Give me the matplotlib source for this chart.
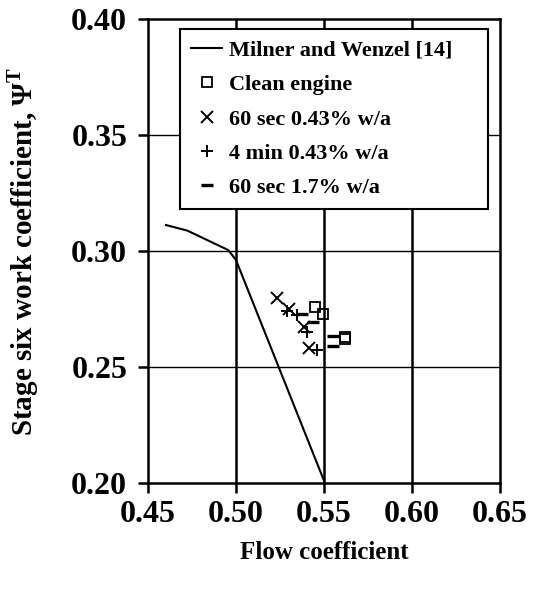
import matplotlib
matplotlib.use("Agg")
import matplotlib.pyplot as plt

plt.rcParams['font.family'] = ['Liberation Serif', 'DejaVu Serif']
plt.rcParams['font.weight'] = 'bold'
plt.rcParams['mathtext.fontset'] = 'custom'
plt.rcParams['mathtext.rm'] = 'Liberation Serif:bold'
plt.rcParams['mathtext.bf'] = 'Liberation Serif:bold'

milner_x = [0.4602, 0.4723, 0.4956, 0.5000, 0.5500]
milner_y = [0.3112, 0.3088, 0.3004, 0.2961, 0.2010]

clean_x = [0.5449, 0.5496, 0.5619, 0.5619]
clean_y = [0.2760, 0.2730, 0.2631, 0.2619]

s60_043_x = [0.5235, 0.5303, 0.5386, 0.5415]
s60_043_y = [0.2799, 0.2749, 0.2671, 0.2583]

m4_043_x = [0.5288, 0.5345, 0.5402, 0.5462]
m4_043_y = [0.2741, 0.2724, 0.2652, 0.2573]

s60_17_x = [0.5373, 0.5439, 0.5553, 0.5553]
s60_17_y = [0.2728, 0.2693, 0.2635, 0.2591]

x_ticks = [0.45, 0.50, 0.55, 0.60, 0.65]
y_ticks = [0.20, 0.25, 0.30, 0.35, 0.40]

fig = plt.figure(figsize=(5.43, 5.91), dpi=100)
ax = fig.add_axes([148/543, 1-483/591, 352/543, 464/591])

for xv in x_ticks[1:-1]:
    ax.axvline(xv, color='black', lw=1.8, zorder=0)
for yv in y_ticks[1:-1]:
    ax.axhline(yv, color='black', lw=1.0, zorder=0)

ax.plot(milner_x, milner_y, color='black', lw=1.5, label='Milner and Wenzel [14]')
ax.plot(clean_x, clean_y, ls='none', marker='s', ms=6.5, mfc='none', mec='black', mew=1.3,
        label='Clean engine')
ax.plot(s60_043_x, s60_043_y, ls='none', marker='x', ms=8, mec='black', mew=1.4,
        label='60 sec 0.43% w/a')
ax.plot(m4_043_x, m4_043_y, ls='none', marker='+', ms=8.5, mec='black', mew=1.4,
        label='4 min 0.43% w/a')
ax.plot(s60_17_x, s60_17_y, ls='none', marker='_', ms=8, mec='black', mew=2.4,
        label='60 sec 1.7% w/a')

ax.set_xlim(0.45, 0.65)
ax.set_ylim(0.20, 0.40)
ax.set_xticks(x_ticks)
ax.set_yticks(y_ticks)
ax.set_xticklabels([f"{v:.2f}" for v in x_ticks])
ax.set_yticklabels([f"{v:.2f}" for v in y_ticks])
ax.tick_params(direction='out', length=7, width=1.8, labelsize=23, pad=8)
ax.tick_params(axis='x', pad=5)
for s in ax.spines.values():
    s.set_linewidth(1.8)

ax.set_xlabel('Flow coefficient', fontsize=18, fontweight='bold', labelpad=9)
ax.set_ylabel('Stage six work coefficient, Ψ$^{\\mathrm{T}}$', fontsize=21,
              fontweight='bold', labelpad=22)

leg = ax.legend(loc='upper left', bbox_to_anchor=(0.091, 0.61, 0.875, 0.368),
                mode='expand', fontsize=16, frameon=True, fancybox=False,
                edgecolor='black', framealpha=1, borderaxespad=0,
                handlelength=1.4, handletextpad=0.3, labelspacing=0.62,
                borderpad=0.5)
leg.get_frame().set_linewidth(1.5)
for t in leg.get_texts():
    t.set_fontweight('bold')

fig.savefig('out.png', dpi=100)
